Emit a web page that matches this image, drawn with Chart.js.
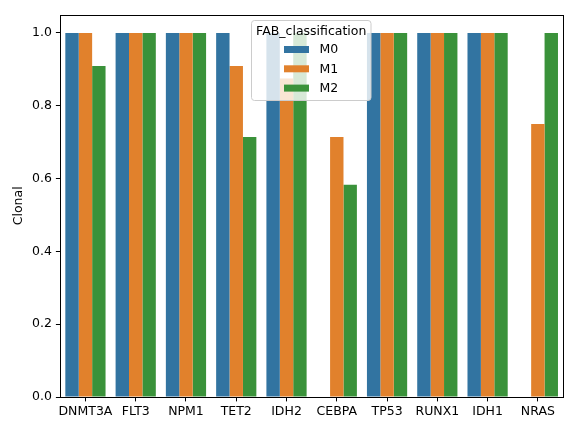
<!DOCTYPE html>
<html><head><meta charset="utf-8">
<script src="https://cdn.jsdelivr.net/npm/chart.js@4"></script>
<style>html,body{margin:0;padding:0;background:#fff;}#wrap{width:576px;height:432px;}</style>
</head><body><div id="wrap"><canvas id="c" width="576" height="432"></canvas></div>
<script>
const categories = ["DNMT3A","FLT3","NPM1","TET2","IDH2","CEBPA","TP53","RUNX1","IDH1","NRAS"];
const seriesNames = ["M0","M1","M2"];
const m0 = [1,1,1,1,1,null,1,1,1,null];
const m1 = [1,1,1,0.909,0.875,0.714,1,1,1,0.75];
const m2 = [0.909,1,1,0.714,1,0.583,1,1,1,1];
const yTicks = [0,0.2,0.4,0.6,0.8,1.0];
const legendTitle = "FAB_classification";
const yTitle = "Clonal";
const colors = ["#3274a1","#e1812c","#3a923a"];
const FONT = "DejaVu Sans";
const FS = 12.5;

const framePlugin = {
  id:'frame',
  afterDatasetsDraw(chart){
    const {ctx, chartArea:a} = chart;
    ctx.save();
    ctx.strokeStyle='#000'; ctx.lineWidth=1;
    ctx.strokeRect(Math.round(a.left)+0.5, Math.round(a.top)+0.5, Math.round(a.right)-Math.round(a.left), Math.round(a.bottom)-Math.round(a.top));
    // legend
    const x0=251.5, y0=20.5, w=119.5, h=80;
    ctx.fillStyle='rgba(255,255,255,0.8)';
    ctx.strokeStyle='#cccccc';
    ctx.beginPath();
    ctx.roundRect(x0,y0,w,h,3);
    ctx.fill(); ctx.stroke();
    ctx.fillStyle='#000';
    ctx.font=FS+'px "'+FONT+'"';
    ctx.textBaseline='middle';
    ctx.textAlign='center';
    ctx.fillText(legendTitle, x0+w/2, 31.5);
    ctx.textAlign='left';
    chart.data.datasets.forEach((ds,i)=>{
      const cy = 49.5 + i*19.3;
      ctx.fillStyle=ds.backgroundColor;
      ctx.fillRect(284, cy-3.5, 25, 7);
      ctx.fillStyle='#000';
      ctx.fillText(ds.label, 319.5, cy+0.5);
    });
    ctx.restore();
  }
};

new Chart(document.getElementById('c'), {
  type:'bar',
  data:{
    labels:categories,
    datasets:[m0,m1,m2].map((d,i)=>({label:seriesNames[i], data:d, backgroundColor:colors[i], borderWidth:0, categoryPercentage:0.8, barPercentage:1.0}))
  },
  options:{
    responsive:false, animation:false, devicePixelRatio:1,
    layout:{padding:{top:14.7,right:13,left:0,bottom:0}},
    plugins:{legend:{display:false}, tooltip:{enabled:false}},
    scales:{
      x:{
        grid:{display:true, offset:false, drawOnChartArea:false, drawTicks:true, tickLength:4.4, tickColor:'#000'},
        border:{display:false},
        ticks:{color:'#000', font:{family:FONT,size:FS}, padding:3, maxRotation:0, autoSkip:false},
        afterFit(s){ s.height = 35; }
      },
      y:{
        min:0, max:1.05,
        grid:{display:true, drawOnChartArea:false, drawTicks:true, tickLength:4.4, tickColor:'#000'},
        border:{display:false},
        ticks:{color:'#000', font:{family:FONT,size:FS}, padding:4, callback:v=>Number(v).toFixed(1)},
        afterBuildTicks(s){ s.ticks = yTicks.map(v=>({value:v})); },
        title:{display:true, text:yTitle, color:'#000', font:{family:FONT,size:FS}, padding:{top:11,bottom:0}},
        afterFit(s){ s.width = 60.3; }
      }
    }
  },
  plugins:[framePlugin]
});
</script></body></html>
